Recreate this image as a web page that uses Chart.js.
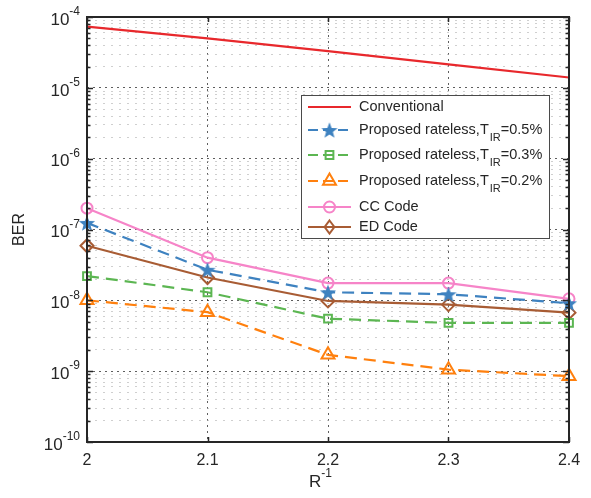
<!DOCTYPE html>
<html>
<head>
<meta charset="utf-8">
<script src="https://cdn.jsdelivr.net/npm/chart.js@4.4.1/dist/chart.umd.min.js"></script>
<style>
  body { margin: 0; background: #fff; }
  #wrap { width: 591px; height: 498px; }
</style>
</head>
<body>
<div id="wrap"><canvas id="berChart" width="591" height="498"></canvas></div>
<script>
// BER vs R^-1

var xValues = [2, 2.1, 2.2, 2.3, 2.4];
var xTickLabels = ['2', '2.1', '2.2', '2.3', '2.4'];
var yDecades = [-10, -9, -8, -7, -6, -5, -4];

var conventional = [7.3e-5, 5.0e-5, 3.3e-5, 2.15e-5, 1.4e-5];
var rateless05 = [1.24e-7, 2.7e-8, 1.3e-8, 1.22e-8, 9.1e-9];
var rateless03 = [2.2e-8, 1.3e-8, 5.5e-9, 4.8e-9, 4.8e-9];
var rateless02 = [1.0e-8, 6.8e-9, 1.7e-9, 1.05e-9, 8.5e-10];
var ccCode = [2.0e-7, 4.0e-8, 1.75e-8, 1.75e-8, 1.05e-8];
var edCode = [5.9e-8, 2.1e-8, 9.8e-9, 8.7e-9, 6.7e-9];

var RED = 'rgb(232, 40, 44)';
var BLUE = 'rgb(62, 130, 192)';
var GREEN = 'rgb(92, 182, 82)';
var ORANGE = 'rgb(255, 128, 14)';
var PINK = 'rgb(246, 132, 200)';
var BROWN = 'rgb(168, 92, 52)';
var TEXT = '#262626';
var FONT = '"Liberation Sans", Arial, sans-serif';

// filled star marker (chart.js 'star' is an asterisk)
function makeStar(color) {
	var c = document.createElement('canvas');
	c.width = 18; c.height = 18;
	var g = c.getContext('2d');
	g.beginPath();
	for (var i = 0; i < 10; i++) {
		var r = i % 2 === 0 ? 8.5 : 3.6;
		var a = -Math.PI / 2 + i * Math.PI / 5;
		var px = 9 + r * Math.cos(a), py = 9.8 + r * Math.sin(a);
		if (i === 0) g.moveTo(px, py); else g.lineTo(px, py);
	}
	g.closePath();
	g.fillStyle = color;
	g.fill();
	return c;
}
var starImg = makeStar(BLUE);

function pts(arr) {
	return arr.map(function (v, i) { return { x: xValues[i], y: v }; });
}

function series(label, arr, color, style, dash, radius) {
	return {
		label: label,
		data: pts(arr),
		borderColor: color,
		backgroundColor: 'rgba(0,0,0,0)',
		borderWidth: 2.2,
		borderDash: dash,
		pointStyle: style,
		pointRadius: radius,
		pointBorderWidth: 2,
		pointBorderColor: color,
		pointBackgroundColor: 'rgba(0,0,0,0)',
		clip: false,
		tension: 0
	};
}

var datasets = [
	series('Conventional', conventional, RED, false, [], 0),
	series('Proposed rateless,T|IR|=0.5%', rateless05, BLUE, starImg, [12, 7], 8),
	series('Proposed rateless,T|IR|=0.3%', rateless03, GREEN, 'rect', [12, 7], 5.5),
	series('Proposed rateless,T|IR|=0.2%', rateless02, ORANGE, 'triangle', [12, 7], 7.5),
	series('CC Code', ccCode, PINK, 'circle', [], 5.5),
	series('ED Code', edCode, BROWN, 'rectRot', [], 6.5)
];

function drawMarker(ctx, ds, x, y) {
	var s = ds.pointStyle, r = ds.pointRadius;
	if (!s) return;
	ctx.save();
	ctx.setLineDash([]);
	ctx.strokeStyle = ds.borderColor;
	ctx.lineWidth = 2;
	if (s === starImg) {
		ctx.drawImage(starImg, x - 9, y - 9);
	} else {
		ctx.beginPath();
		if (s === 'circle') {
			ctx.arc(x, y, r, 0, Math.PI * 2);
		} else if (s === 'rect') {
			var h = r * Math.SQRT1_2;
			ctx.rect(x - h, y - h, 2 * h, 2 * h);
		} else if (s === 'triangle') {
			ctx.moveTo(x, y - r);
			ctx.lineTo(x + r * 0.866, y + r * 0.5);
			ctx.lineTo(x - r * 0.866, y + r * 0.5);
			ctx.closePath();
		} else if (s === 'rectRot') {
			ctx.moveTo(x, y - r); ctx.lineTo(x + r * 0.75, y);
			ctx.lineTo(x, y + r); ctx.lineTo(x - r * 0.75, y);
			ctx.closePath();
		}
		ctx.stroke();
	}
	ctx.restore();
}

// text with 'a|sub|b' subscript
function drawRichLabel(ctx, text, x, y) {
	var parts = text.split('|');
	ctx.textBaseline = 'middle';
	ctx.textAlign = 'left';
	ctx.fillStyle = TEXT;
	for (var i = 0; i < parts.length; i++) {
		var sub = i % 2 === 1;
		ctx.font = (sub ? '11px ' : '14.5px ') + FONT;
		ctx.fillText(parts[i], x + (sub ? 1 : 0), y + (sub ? 7.5 : 0));
		x += ctx.measureText(parts[i]).width + (sub ? 1 : 0);
	}
}

function drawPow(ctx, base, exp, xRight, y, bigSize, smallSize) {
	ctx.font = smallSize + 'px ' + FONT;
	var we = ctx.measureText(exp).width;
	ctx.font = bigSize + 'px ' + FONT;
	var wb = ctx.measureText(base).width;
	ctx.textBaseline = 'middle';
	ctx.textAlign = 'left';
	ctx.fillStyle = TEXT;
	ctx.fillText(base, xRight - we - wb, y);
	ctx.font = smallSize + 'px ' + FONT;
	ctx.fillText(exp, xRight - we, y - 8);
}

var framePlugin = {
	id: 'frame',
	afterDatasetsDraw: function (chart) {
		var ctx = chart.ctx, a = chart.chartArea;
		var xs = chart.scales.x, ys = chart.scales.y;
		ctx.save();

		// inward ticks on all four sides
		ctx.strokeStyle = TEXT;
		ctx.lineWidth = 1.5;
		ctx.beginPath();
		ys.ticks.forEach(function (t) {
			var py = Math.round(ys.getPixelForValue(t.value)) + 0.5;
			var len = t.major ? 6 : 3.5;
			ctx.moveTo(a.left, py); ctx.lineTo(a.left + len, py);
			ctx.moveTo(a.right, py); ctx.lineTo(a.right - len, py);
		});
		xs.ticks.forEach(function (t) {
			var px = Math.round(xs.getPixelForValue(t.value)) + 0.5;
			ctx.moveTo(px, a.bottom); ctx.lineTo(px, a.bottom - 5);
			ctx.moveTo(px, a.top); ctx.lineTo(px, a.top + 5);
		});
		ctx.stroke();

		// axes box
		ctx.lineWidth = 2;
		ctx.strokeRect(a.left, a.top, a.right - a.left, a.bottom - a.top);

		// y tick labels
		yDecades.forEach(function (e) {
			var py = ys.getPixelForValue(Math.pow(10, e));
			drawPow(ctx, '10', String(e), a.left - 7, py + 3, 17, 12);
		});

		// x tick labels
		ctx.font = '16px ' + FONT;
		ctx.textAlign = 'center';
		ctx.textBaseline = 'middle';
		ctx.fillStyle = TEXT;
		xValues.forEach(function (v, i) {
			ctx.fillText(xTickLabels[i], xs.getPixelForValue(v), a.bottom + 19);
		});

		// axis titles
		drawPow(ctx, 'R', '-1', (a.left + a.right) / 2 + 4, a.bottom + 40, 17, 12);
		ctx.save();
		ctx.translate(20, (a.top + a.bottom) / 2);
		ctx.rotate(-Math.PI / 2);
		ctx.font = '16px ' + FONT;
		ctx.textAlign = 'center';
		ctx.textBaseline = 'middle';
		ctx.fillText('BER', 0, 0);
		ctx.restore();

		// legend
		var lx = 301, ly = 95, lw = 248, lh = 143;
		ctx.fillStyle = '#fff';
		ctx.fillRect(lx, ly, lw, lh);
		ctx.strokeStyle = '#4a4a4a';
		ctx.lineWidth = 1;
		ctx.strokeRect(lx + 0.5, ly + 0.5, lw, lh);
		var rows = [107, 130, 155, 181, 207, 227];
		chart.data.datasets.forEach(function (ds, i) {
			var ry = rows[i];
			ctx.save();
			ctx.strokeStyle = ds.borderColor;
			ctx.lineWidth = 2.2;
			ctx.setLineDash(ds.borderDash.length ? [10, 5] : []);
			ctx.beginPath();
			ctx.moveTo(308, ry); ctx.lineTo(351, ry);
			ctx.stroke();
			ctx.restore();
			drawMarker(ctx, ds, 329.5, ry);
			drawRichLabel(ctx, ds.label, 359, ry);
		});
		ctx.restore();
	}
};

new Chart(document.getElementById('berChart'), {
	type: 'line',
	data: { datasets: datasets },
	options: {
		responsive: false,
		animation: false,
		events: [],
		layout: { padding: { left: 87, right: 22, top: 17, bottom: 56 } },
		plugins: { legend: { display: false }, tooltip: { enabled: false } },
		scales: {
			x: {
				type: 'linear',
				min: 2,
				max: 2.4,
				afterBuildTicks: function (scale) {
					scale.ticks = xValues.map(function (v) { return { value: v, major: true }; });
				},
				ticks: { display: false },
				grid: { drawTicks: false, color: 'rgba(40,40,40,0.75)', lineWidth: 1 },
				border: { display: false, dash: [2, 4] }
			},
			y: {
				type: 'logarithmic',
				min: 1e-10,
				max: 1e-4,
				afterBuildTicks: function (scale) {
					var t = [];
					for (var e = -10; e <= -4; e++) {
						for (var k = 1; k <= 9; k++) {
							var v = k * Math.pow(10, e);
							if (v > 1.0001e-4) break;
							t.push({ value: v, major: k === 1 });
						}
					}
					scale.ticks = t;
				},
				ticks: { display: false },
				grid: {
					drawTicks: false,
					lineWidth: 1,
					color: function (c) { return c.tick && c.tick.major ? 'rgba(40,40,40,0.75)' : 'rgba(175,175,175,0.6)'; }
				},
				border: {
					display: false,
					dash: function (c) { return c.tick && c.tick.major ? [2, 4] : [2, 6]; }
				}
			}
		}
	},
	plugins: [framePlugin]
});
</script>
</body>
</html>
